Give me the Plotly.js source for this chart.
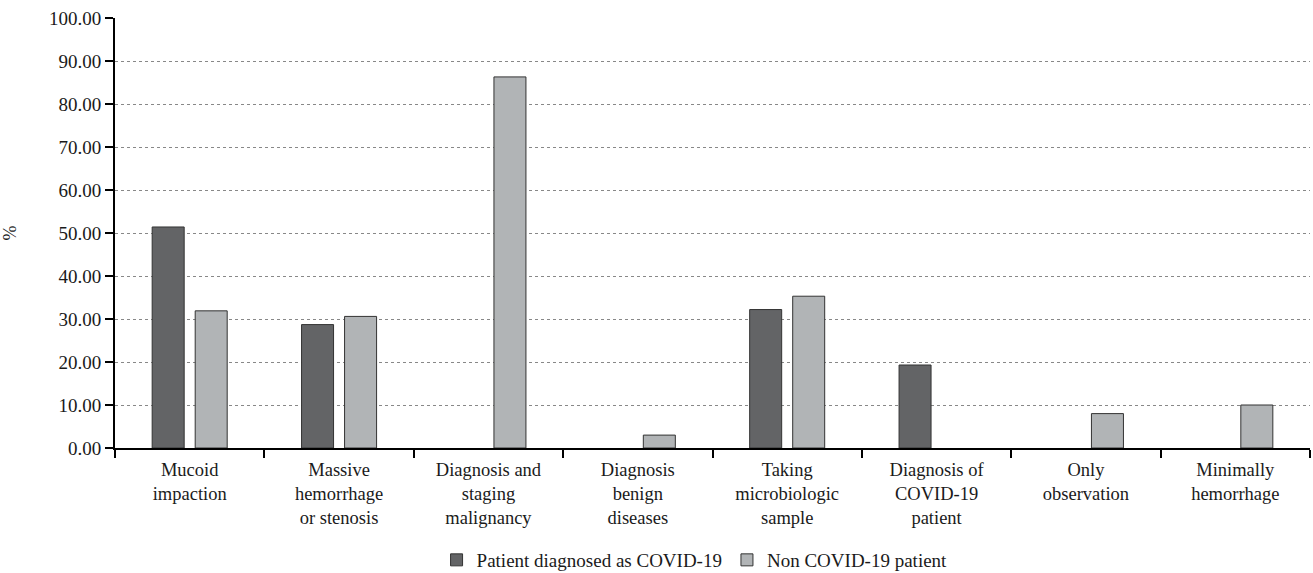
<!DOCTYPE html>
<html>
<head>
<meta charset="utf-8">
<script src="https://cdn.plot.ly/plotly-3.0.1.min.js"></script>
<style>html,body{margin:0;padding:0;background:#fff;}#chart{width:1313px;height:573px;}</style>
</head>
<body>
<div id="chart"></div>
<script>
const categories = [
  "Mucoid<br>impaction",
  "Massive<br>hemorrhage<br>or stenosis",
  "Diagnosis and<br>staging<br>malignancy",
  "Diagnosis<br>benign<br>diseases",
  "Taking<br>microbiologic<br>sample",
  "Diagnosis of<br>COVID-19<br>patient",
  "Only<br>observation",
  "Minimally<br>hemorrhage"
];
// null = no bar drawn for that group
const covidValues = [51.4, 28.7, null, null, 32.2, 19.3, null, null];
const nonCovidValues = [31.9, 30.6, 86.3, 3.0, 35.3, null, 8.0, 10.0];
const seriesNames = ["Patient diagnosed as COVID-19", "Non COVID-19 patient"];
const yTicks = [0, 10, 20, 30, 40, 50, 60, 70, 80, 90, 100];

const fam = "Liberation Serif";
const tickFontY = {family: fam, size: 19, color: "#1a1a1a"};
const tickFontX = {family: fam, size: 18.5, color: "#1a1a1a"};
const legendFont = {family: fam, size: 19, color: "#1a1a1a"};

const traces = [
  {type: "bar", x: categories, y: covidValues, name: seriesNames[0],
   marker: {color: "#636466", line: {color: "#333", width: 1}}},
  {type: "bar", x: categories, y: nonCovidValues, name: seriesNames[1],
   marker: {color: "#b1b4b6", line: {color: "#333", width: 1}}}
];

const layout = {
  width: 1313, height: 573,
  margin: {l: 115, r: 3, t: 18, b: 125},
  paper_bgcolor: "#fff", plot_bgcolor: "#fff",
  font: {family: fam, size: 18, color: "#1a1a1a"},
  barmode: "group",
  bargap: 0.424,
  bargroupgap: 0.256,
  showlegend: true,
  legend: {orientation: "h", x: 0.485, xanchor: "center", xref: "paper",
           y: 13 / 573, yanchor: "middle", yref: "container",
           font: legendFont, traceorder: "normal", itemwidth: 30},
  xaxis: {
    type: "category", showline: true, linecolor: "#000", linewidth: 2,
    ticks: "outside", tickson: "boundaries", ticklen: 8, tickwidth: 2, tickcolor: "#000",
    ticklabelstandoff: 4,
    showgrid: false, tickfont: tickFontX, automargin: false
  },
  yaxis: {
    range: [0, 100], tickvals: yTicks, tickformat: ".2f",
    showline: true, linecolor: "#000", linewidth: 2,
    ticks: "outside", ticklen: 8, tickwidth: 2, tickcolor: "#000",
    showgrid: true, gridcolor: "#888", griddash: "dot", gridwidth: 1,
    zeroline: false, tickfont: tickFontY, automargin: false,
    title: {text: "%", font: {family: fam, size: 18, color: "#1a1a1a"}, standoff: 62}
  },
  hovermode: false
};

Plotly.newPlot("chart", traces, layout, {staticPlot: true, displayModeBar: false});
</script>
</body>
</html>
